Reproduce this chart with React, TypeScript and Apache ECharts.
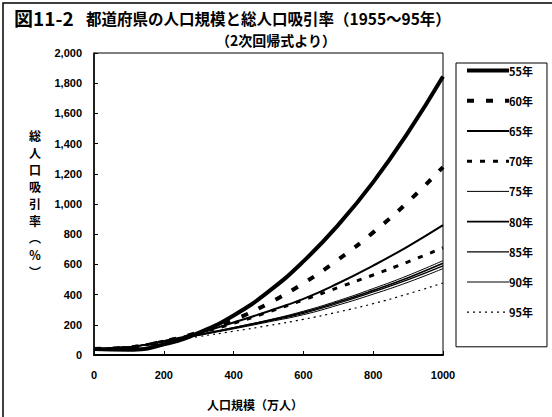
import React, { useEffect, useRef } from "react";
import * as echarts from "echarts";

const xs = [0, 100, 200, 300, 400, 500, 600, 700, 800, 900, 1000];
const seriesNames = ["55年", "60年", "65年", "70年", "75年", "80年", "85年", "90年", "95年"];
const v55 = [40, 35, 70, 147, 262, 420, 620, 862, 1145, 1475, 1845];
const v60 = [40, 50, 90, 150, 232, 342, 475, 632, 812, 1015, 1245];
const v65 = [40, 52, 92, 145, 215, 290, 372, 475, 592, 720, 860];
const v70 = [40, 52, 92, 145, 210, 285, 365, 447, 530, 617, 710];
const v75 = [40, 52, 90, 135, 182, 232, 290, 360, 440, 527, 625];
const v80 = [40, 52, 90, 134, 180, 229, 283, 351, 428, 512, 607];
const v85 = [40, 53, 89, 132, 177, 225, 276, 343, 418, 499, 590];
const v90 = [40, 53, 88, 130, 173, 219, 267, 331, 403, 482, 572];
const v95 = [40, 55, 86, 122, 157, 195, 236, 285, 340, 405, 477];
const yTicks = [0, 200, 400, 600, 800, 1000, 1200, 1400, 1600, 1800, 2000];

const allValues = [v55, v60, v65, v70, v75, v80, v85, v90, v95];
const styles: { width: number; type: any }[] = [
  { width: 4, type: "solid" },
  { width: 4, type: [7, 12] },
  { width: 2, type: "solid" },
  { width: 3, type: [5, 8] },
  { width: 1, type: "solid" },
  { width: 1.6, type: "solid" },
  { width: 1.2, type: "solid" },
  { width: 1, type: "solid" },
  { width: 1.2, type: [2, 4] },
];

const FONT = "'Noto Sans CJK JP', sans-serif";
const NUMFONT = "'Liberation Sans', Arial, sans-serif";

export default function App() {
  const ref = useRef<HTMLDivElement>(null);
  useEffect(() => {
    if (!ref.current) return;
    const chart = echarts.init(ref.current, null, { renderer: "svg" });
    const series = seriesNames.map((name, i) => ({
      name,
      type: "line",
      smooth: true,
      symbol: "none",
      data: xs.map((x, j) => [x, allValues[i][j]]),
      lineStyle: { color: "#000", width: styles[i].width, type: styles[i].type },
      itemStyle: { color: "#000" },
    }));
    chart.setOption({
      animation: false,
      backgroundColor: "#fff",
      grid: {
        left: 94,
        right: 109,
        top: 53,
        bottom: 62,
        show: true,
        borderColor: "#000",
        borderWidth: 1,
      },
      xAxis: {
        type: "value",
        min: 0,
        max: 1000,
        interval: 200,
        axisLine: { show: true, lineStyle: { color: "#000", width: 2 } },
        axisTick: { show: true, inside: true, length: 4, lineStyle: { color: "#000" } },
        splitLine: { show: false },
        axisLabel: {
          color: "#000",
          fontFamily: NUMFONT,
          fontWeight: "bold",
          fontSize: 11,
          margin: 14,
          formatter: (v: number) => String(v),
        },
      },
      yAxis: {
        type: "value",
        min: 0,
        max: 2000,
        interval: 200,
        axisLine: { show: true, lineStyle: { color: "#000", width: 1.5 } },
        axisTick: { show: true, inside: true, length: 4, lineStyle: { color: "#000" } },
        splitLine: { show: false },
        axisLabel: {
          color: "#000",
          fontFamily: NUMFONT,
          fontWeight: "bold",
          fontSize: 11,
          margin: 12,
          formatter: (v: number) => (yTicks.includes(v) ? v.toLocaleString("en-US") : ""),
        },
      },
      legend: {
        orient: "vertical",
        left: 456,
        top: 63,
        itemWidth: 42,
        itemHeight: 14,
        itemGap: 19,
        padding: [2, 14, 29, 9],
        borderColor: "#000",
        borderWidth: 1,
        textStyle: { color: "#000", fontFamily: FONT, fontWeight: "bold", fontSize: 11, padding: [0, 0, 0, -5] },
        data: seriesNames.map((name, i) => ({
          name,
          itemStyle: { opacity: 0 },
          lineStyle: { color: "#000", width: styles[i].width, type: styles[i].type },
        })),
      },
      graphic: [
        {
          type: "polyline",
          shape: { points: [[3, 417], [3, 3], [552, 3]] },
          style: { stroke: "#000", lineWidth: 1.5, fill: "none" },
        },
        {
          type: "text",
          left: 14,
          top: 8,
          style: { text: "図11-2", font: `bold 19px ${FONT}`, fill: "#000" },
        },
        {
          type: "text",
          left: 86,
          top: 10,
          style: {
            text: "都道府県の人口規模と総人口吸引率（1955～95年）",
            font: `bold 15.5px ${FONT}`,
            fill: "#000",
          },
        },
        {
          type: "text",
          x: 276,
          y: 40,
          style: {
            text: "（2次回帰式より）",
            font: `bold 14px ${FONT}`,
            fill: "#000",
            align: "center",
            verticalAlign: "middle",
          },
        },
        {
          type: "text",
          x: 35,
          y: 127,
          style: {
            text: "総\n人\n口\n吸\n引\n率\n︵\n％\n︶",
            font: `bold 12px ${FONT}`,
            lineHeight: 17,
            fill: "#000",
            align: "center",
            verticalAlign: "top",
          },
        },
        {
          type: "text",
          x: 255,
          y: 404,
          style: {
            text: "人口規模（万人）",
            font: `bold 12px ${FONT}`,
            fill: "#000",
            align: "center",
            verticalAlign: "middle",
          },
        },
      ],
      series,
    });
    return () => chart.dispose();
  }, []);
  return <div ref={ref} style={{ width: 552, height: 417, position: "absolute", left: 0, top: 0 }} />;
}
